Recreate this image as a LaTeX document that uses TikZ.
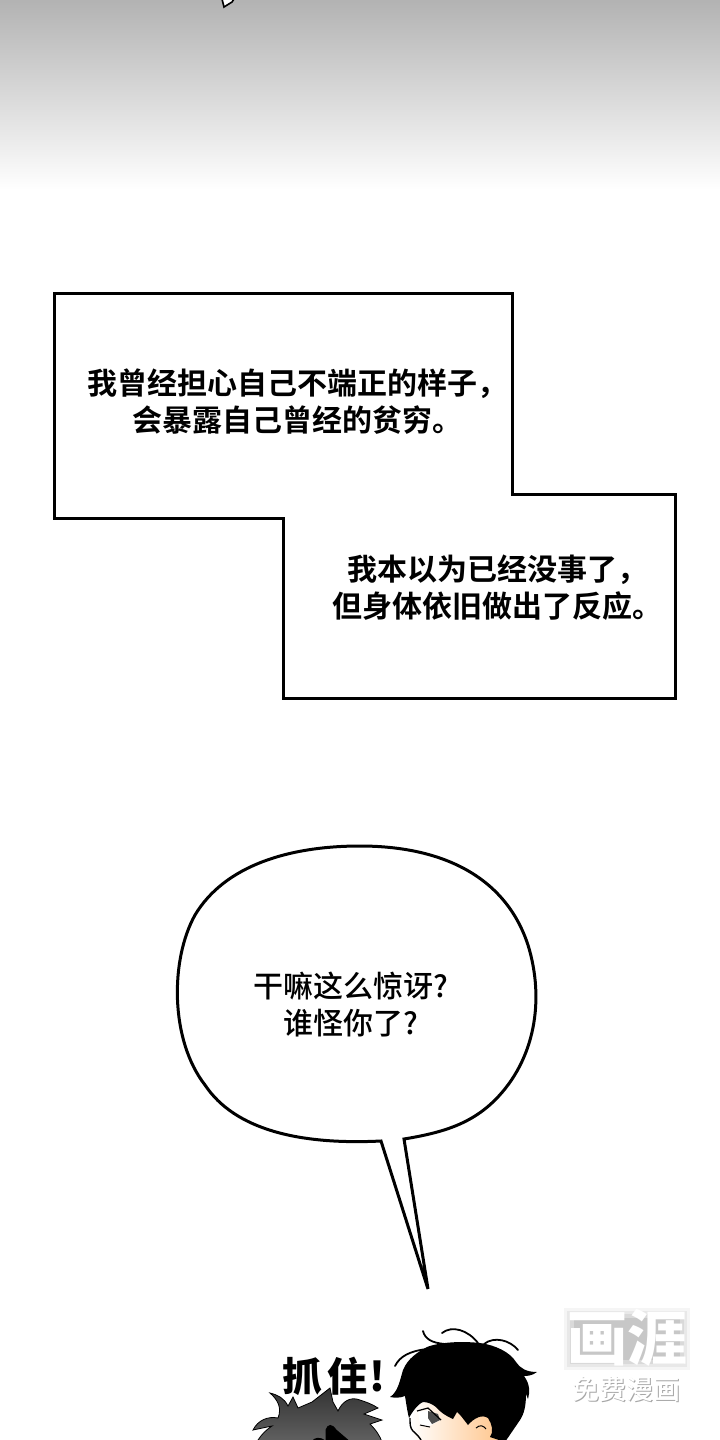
\documentclass[tikz,border=0pt]{standalone}
\usepackage{fontspec}
\newfontfamily\cjkb{Noto Sans CJK SC Bold}
\newfontfamily\cjkm{Noto Sans CJK SC Medium}
\newfontfamily\cjkh{Noto Sans CJK SC Black}
\begin{document}
\begin{tikzpicture}[x=1pt,y=-1pt,
  panel/.style={draw=black,line width=3pt,fill=white,line join=miter},
  captiontext/.style={font=\fontsize{30}{37}\selectfont\cjkb,align=center,text=black,inner sep=0pt},
  speech/.style={font=\fontsize{30}{37}\selectfont\cjkm,align=center,text=black,inner sep=0pt},
  strand/.style={black,line width=1.8pt,line cap=round}]
\useasboundingbox (0,0) rectangle (720,1440);
\fill[white] (0,0) rectangle (720,1440);
\shade[top color=black!30,bottom color=white] (0,0) rectangle (720,190);
\draw[black,line width=1.6pt,fill=white] (222,-1) -- (224,7) -- (232,2) -- (234,-1);
% panels
\draw[panel] (54,293) -- (512,293) -- (512,494) -- (675,494) -- (675,698) -- (283,698) -- (283,518) -- (54,518) -- cycle;
\node[captiontext] (c1) at (297,402) {我曾经担心自己不端正的样子，\\会暴露自己曾经的贫穷。};
\node[captiontext] (c2) at (497,588) {我本以为已经没事了，\\但身体依旧做出了反应。};
% bubble
\fill[white]
  (381,1141) .. controls (300,1145) and (235,1130) .. (205,1085)
  .. controls (170,1040) and (170,960) .. (195,915)
  .. controls (225,865) and (290,846) .. (360,846)
  .. controls (440,846) and (505,875) .. (528,945)
  .. controls (545,1000) and (535,1060) .. (495,1100)
  .. controls (470,1125) and (440,1133) .. (404,1139)
  -- (428,1289) -- cycle;
\draw[black,line width=3pt,line join=miter]
  (428,1289) -- (381,1141) .. controls (300,1145) and (235,1130) .. (205,1085)
  .. controls (170,1040) and (170,960) .. (195,915)
  .. controls (225,865) and (290,846) .. (360,846)
  .. controls (440,846) and (505,875) .. (528,945)
  .. controls (545,1000) and (535,1060) .. (495,1100)
  .. controls (470,1125) and (440,1133) .. (404,1139)
  -- (428,1289);
\node[speech] (s1) at (351,1004) {干嘛这么惊讶?\\谁怪你了?};
\begin{scope}
\clip (0,1300) rectangle (720,1440);
% lower head
\shade[top color=black!80,bottom color=black!62,draw=black,line width=.8pt]
  (258,1440) .. controls (262,1434) and (266,1430) .. (272,1426)
  -- (253,1430) .. controls (258,1420) and (268,1416) .. (278,1418)
  .. controls (282,1408) and (278,1400) .. (270,1393)
  .. controls (278,1395) and (284,1398) .. (288,1406)
  -- (293,1397) -- (298,1408) -- (312,1402) -- (330,1388) -- (333,1402) -- (338,1411)
  .. controls (342,1402) and (350,1396) .. (360,1400)
  .. controls (366,1402) and (372,1404) .. (378,1408)
  -- (364,1414) -- (382,1420) -- (370,1424)
  .. controls (376,1430) and (380,1436) .. (382,1442) -- (258,1442) -- cycle;
\draw[fill=orange!45,black,line width=1pt] (326,1442) -- (326,1430) .. controls (328,1424) and (332,1424) .. (336,1430) -- (350,1442) -- cycle;
\draw[fill=orange!45,black,line width=1pt] (312,1442) .. controls (314,1438) and (320,1436) .. (326,1442) -- cycle;
% face
\shade[left color=white,right color=orange!45] (410,1442) -- (410,1426) -- (418,1400) -- (490,1395) -- (500,1442) -- cycle;
% hair
\fill[black] (390,1397) .. controls (398,1392) and (400,1380) .. (403,1370)
  .. controls (408,1358) and (418,1352) .. (427,1347)
  .. controls (440,1342) and (462,1341) .. (480,1343)
  .. controls (495,1345) and (510,1352) .. (516,1362)
  .. controls (520,1368) and (526,1372) .. (537,1372)
  .. controls (532,1376) and (526,1376) .. (524,1376)
  .. controls (530,1384) and (530,1392) .. (528,1399)
  -- (526,1394) .. controls (526,1406) and (524,1414) .. (520,1420)
  -- (505,1442) -- (490,1437) .. controls (494,1432) and (492,1424) .. (488,1418)
  .. controls (482,1414) and (474,1418) .. (468,1425)
  .. controls (464,1420) and (460,1414) .. (457,1412)
  -- (453,1419) .. controls (446,1416) and (440,1412) .. (436,1407)
  .. controls (432,1404) and (428,1402) .. (423,1402)
  .. controls (418,1404) and (412,1412) .. (409,1418)
  .. controls (407,1410) and (406,1402) .. (405,1396)
  .. controls (400,1398) and (395,1398) .. (390,1397) -- cycle;
\draw[strand] (423,1331) .. controls (425,1339) and (432,1343) .. (445,1344);
\draw[strand] (442,1333) .. controls (452,1325) and (468,1330) .. (478,1343);
\draw[strand] (484,1344) .. controls (494,1336) and (510,1340) .. (518,1350);
\draw[strand] (395,1366) .. controls (400,1356) and (410,1351) .. (427,1349);
\draw[black,line width=1.4pt] (410,1418) .. controls (410,1424) and (410,1428) .. (413,1431) .. controls (416,1434) and (420,1437) .. (422,1442);
\fill[white] (418,1412) -- (428,1410) -- (440,1420) -- (428,1427) -- (420,1424) -- cycle;
\fill[black!70] (428,1411) -- (438,1414) -- (440,1420) -- (432,1424) -- (428,1418) -- cycle;
\draw[black,line width=1.2pt] (417,1411) -- (428,1408) -- (441,1420);
\draw[black,line width=1pt] (420,1425) -- (430,1427);
\draw[black,line width=1pt] (476,1428) .. controls (480,1424) and (484,1426) .. (486,1429);
\end{scope}
\node[font=\fontsize{40}{40}\selectfont\cjkh,inner sep=0pt] (s2) at (334,1376) {抓\kern5pt住\kern2pt!};
% watermark
\fill[black!4] (564,1308) rectangle (690,1370);
\fill[black!9] (567,1311) rectangle (687,1367);
\fill[black!15] (570,1314) rectangle (684,1364);
\fill[black!22] (574,1318) rectangle (680,1360);
\node[font=\fontsize{60}{60}\selectfont\cjkh,text=white,inner sep=0pt] (w1) at (627,1338) {画涯};
\node[font=\fontsize{27}{27}\selectfont\cjkm,text=black!35,inner sep=0pt] (w2s) at (627,1390) {免费漫画};
\node[font=\fontsize{27}{27}\selectfont\cjkm,text=white,inner sep=0pt] (w2) at (626,1389) {免费漫画};
\end{tikzpicture}
\end{document}
